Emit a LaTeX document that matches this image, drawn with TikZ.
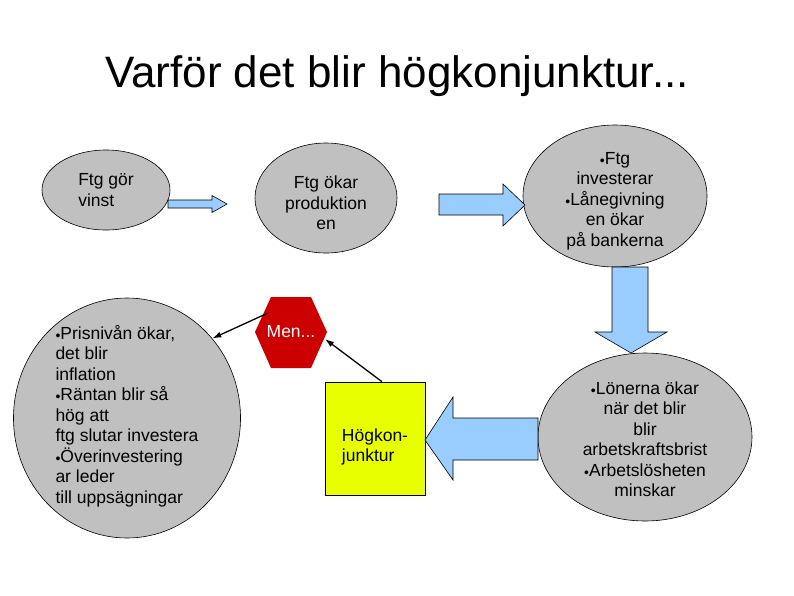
\documentclass[tikz,border=0pt]{standalone}
\usepackage{fontspec}
\setmainfont{Liberation Sans}
\usetikzlibrary{arrows.meta,shapes.geometric,calc}
\definecolor{ellgray}{RGB}{192,192,192}
\definecolor{arrblue}{RGB}{153,204,255}
\definecolor{hkyellow}{RGB}{232,255,0}
\definecolor{menred}{RGB}{204,0,0}
\newcommand{\bul}{\raisebox{-1pt}{\scalebox{0.8}{•}}}
\begin{document}
\begin{tikzpicture}[x=1pt,y=-1pt,
  bubble/.style={ellipse, draw=black, line width=0.6pt, fill=ellgray, inner sep=0pt},
  bodytext/.style={inner sep=0pt, font=\fontsize{17.5}{20.5}\selectfont},
  blockarrow/.style={draw=black, line width=0.6pt, fill=arrblue, line join=miter},
  conn/.style={draw=black, line width=1.3pt, -{Latex[length=9pt,width=6pt]}}]
\useasboundingbox (0,0) rectangle (794,595);
\fill[white] (0,0) rectangle (794,595);

\node[anchor=base, inner sep=0pt, font=\fontsize{44}{50}\selectfont] (title) at (397,87) {Varför det blir högkonjunktur...};

% bubbles
\node[bubble, minimum width=128pt, minimum height=80pt] (e1) at (106,190) {};
\node[bubble, minimum width=142pt, minimum height=110pt] (e2) at (326,198) {};
\node[bubble, minimum width=184pt, minimum height=142pt] (e3) at (615,196) {};
\node[bubble, minimum width=214pt, minimum height=168pt] (e4) at (645,437) {};
\node[bubble, minimum width=227pt, minimum height=240pt] (big) at (127,418) {};
\node[draw=black, line width=0.6pt, fill=hkyellow, minimum width=100pt, minimum height=113pt, inner sep=0pt] (hk) at (375,438.5) {};

% block arrows
\draw[blockarrow] (168,200) -- (212,200) -- (212,195.5) -- (227,204) -- (212,212.5) -- (212,208) -- (168,208) -- cycle;
\draw[blockarrow] (439,194) -- (503,194) -- (503,184) -- (525,205) -- (503,226) -- (503,215) -- (439,215) -- cycle;
\draw[blockarrow] (612,267) -- (648,267) -- (648,332) -- (667,332) -- (631,353) -- (595,332) -- (612,332) -- cycle;
\draw[blockarrow] (538,418) -- (453,418) -- (453,397) -- (425,440) -- (453,480) -- (453,460) -- (538,460) -- cycle;

% hexagon
\fill[menred] (255,332) -- (271,297) -- (311,297) -- (327,332) -- (311,368) -- (271,368) -- cycle;
\node[bodytext, text=white] (men) at (291,332) {Men...};
\coordinate (menUL) at (268,313);
\coordinate (menR) at (325,339);

% texts
\node[bodytext, align=left] (t1) at (106,190) {Ftg gör\\vinst};
\node[bodytext, align=center] (t2) at (326,203) {Ftg ökar\\produktion\\en};
\node[bodytext, align=center] (t3) at (615,201) {\bul Ftg\\investerar\\\bul Lånegivning\\en ökar\\på bankerna};
\node[bodytext, align=center] (t4) at (645,439) {\bul Lönerna ökar\\när det blir\\blir\\arbetskraftsbrist\\\bul Arbetslösheten\\minskar};
\node[bodytext, align=left] (tbig) at (127,416) {\bul Prisnivån ökar,\\det blir\\inflation\\\bul Räntan blir så\\hög att\\ftg slutar investera\\\bul Överinvestering\\ar leder\\till uppsägningar};
\node[bodytext, align=left] (thk) at (375,447) {Högkon-\\junktur};

% connectors
\draw[conn] (menUL) -- (big.43);
\draw[conn] ([xshift=7pt]hk.north) -- (menR);
\end{tikzpicture}
\end{document}
